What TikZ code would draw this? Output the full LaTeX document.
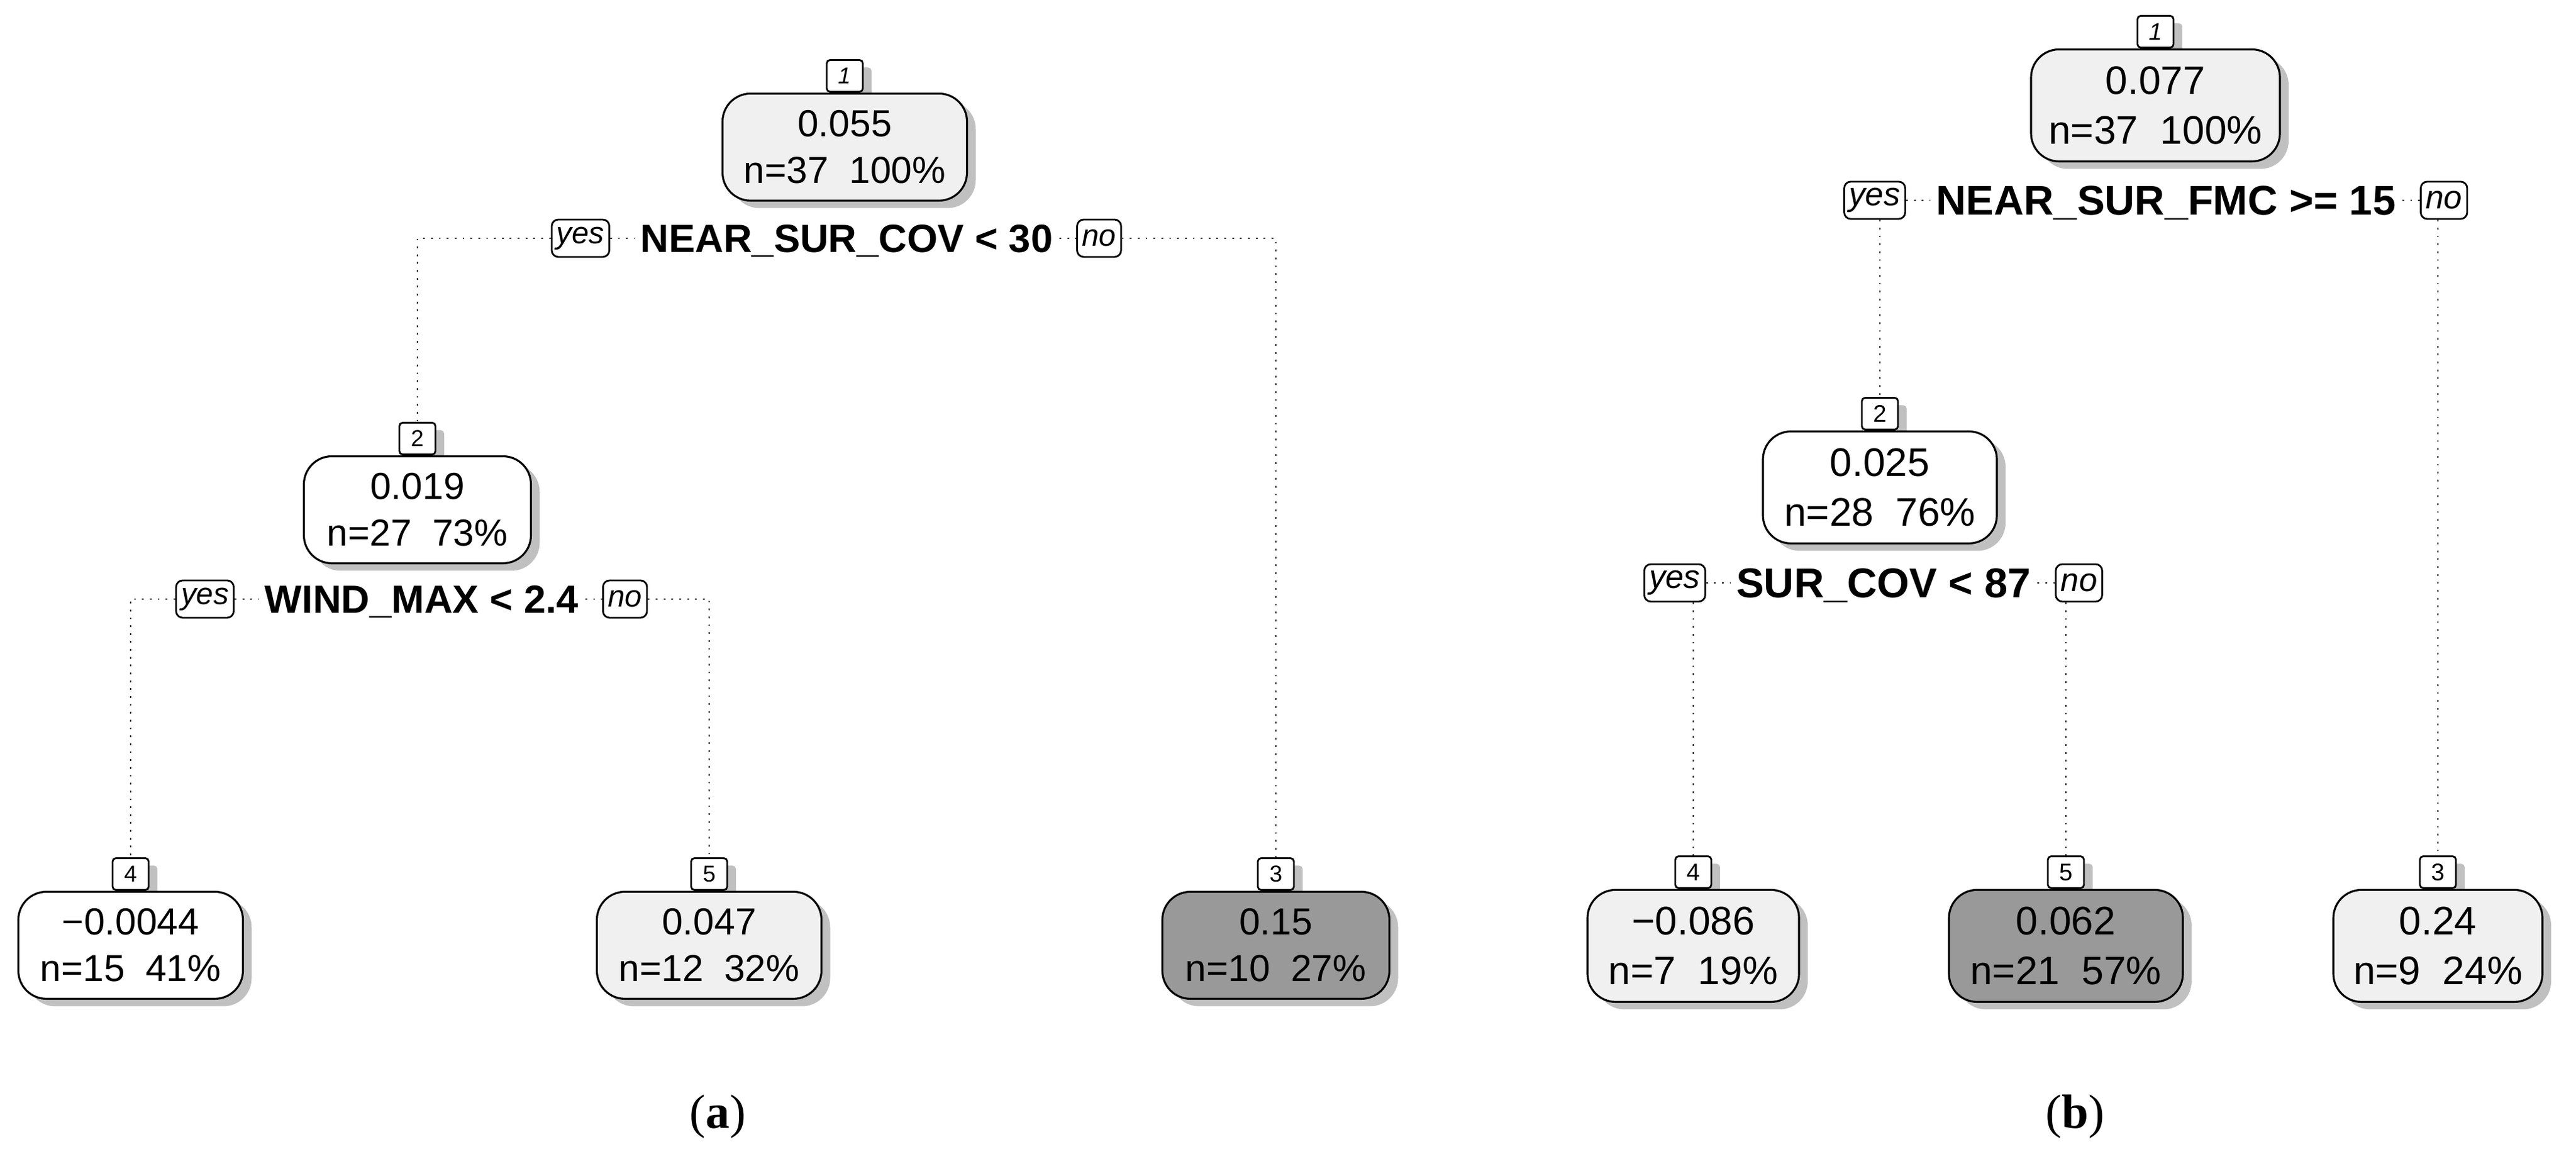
\documentclass[tikz,border=0pt]{standalone}
\usepackage{fontspec}
\setmainfont{Liberation Sans}
\newfontfamily\capfont{Liberation Serif}
\usetikzlibrary{positioning, shadows}
\definecolor{boxlight}{RGB}{240, 240, 240}
\definecolor{boxdark}{RGB}{153, 153, 153}
\definecolor{shadowgray}{RGB}{192, 192, 192}

\tikzset{
  treenode/.style={draw, line width=0.9pt, rounded corners=0.45cm, align=center, inner xsep=0.1cm, inner ysep=0pt,
    drop shadow={shadow xshift=0.14cm, shadow yshift=-0.12cm, fill=shadowgray, opacity=1}},
  numbox/.style={draw, line width=0.8pt, fill=white, rounded corners=1.5pt, minimum width=0.58cm, minimum height=0.51cm, inner sep=0pt,
    drop shadow={shadow xshift=0.14cm, shadow yshift=-0.12cm, fill=shadowgray, opacity=1}},
  splittext/.style={font=\bfseries, inner xsep=0.1cm, text depth=0pt},
  yesno/.style={draw, line width=0.8pt, rounded corners=3pt, fill=white, inner xsep=0.08cm, inner ysep=0pt, minimum height=0.6cm, font=\itshape},
  link/.style={line width=0.8pt, black!85, dash pattern=on 0.8pt off 2.8pt}
}

\begin{document}
\begin{tikzpicture}
  \useasboundingbox (0, 0) rectangle (41.41, 18.63);

  % (a)
  \begin{scope}[treenode/.append style={font=\fontsize{17.2}{21.3}\selectfont, minimum height=1.72cm},
    numbox/.append style={font=\fontsize{10.5}{12}\selectfont},
    splittext/.append style={font=\fontsize{18}{20}\selectfont\bfseries},
    yesno/.append style={font=\fontsize{14}{16}\selectfont\itshape}]
    \node[numbox] (l1a) at (13.58, 17.41) {\textit{1}};
    \node[treenode, fill=boxlight, minimum width=3.93cm, below=0pt of l1a] (n1a) {0.055\\n=37~~100\%};
    \node[splittext] (split1a) at (13.61, 14.80) {NEAR\_SUR\_COV < 30};
    \node[yesno, left=0.38cm of split1a] (yes1a) {yes};
    \node[yesno, right=0.27cm of split1a] (no1a) {no};

    \node[numbox] (l2a) at (6.71, 11.58) {2};
    \node[treenode, fill=white, minimum width=3.65cm, below=0pt of l2a] (n2a) {0.019\\n=27~~73\%};
    \node[splittext] (split2a) at (6.78, 9.00) {WIND\_MAX < 2.4};
    \node[yesno, left=0.38cm of split2a] (yes2a) {yes};
    \node[yesno, right=0.27cm of split2a] (no2a) {no};

    \node[numbox] (l4a) at (2.10, 4.58) {4};
    \node[treenode, fill=white, minimum width=3.61cm, below=0pt of l4a] (n4a) {−0.0044\\n=15~~41\%};
    \node[numbox] (l5a) at (11.40, 4.58) {5};
    \node[treenode, fill=boxlight, minimum width=3.61cm, below=0pt of l5a] (n5a) {0.047\\n=12~~32\%};
    \node[numbox] (l3a) at (20.51, 4.58) {3};
    \node[treenode, fill=boxdark, minimum width=3.65cm, below=0pt of l3a] (n3a) {0.15\\n=10~~27\%};

    \draw[link] (yes1a.west) -| (l2a.north);
    \draw[link] (no1a.east) -| (l3a.north);
    \draw[link] (yes2a.west) -| (l4a.north);
    \draw[link] (no2a.east) -| (l5a.north);
  \end{scope}

  % (b)
  \begin{scope}[treenode/.append style={font=\fontsize{18.2}{22.6}\selectfont, minimum height=1.80cm},
    numbox/.append style={font=\fontsize{11}{13}\selectfont},
    splittext/.append style={font=\fontsize{19}{21}\selectfont\bfseries},
    yesno/.append style={font=\fontsize{15}{17}\selectfont\itshape}]
    \node[numbox] (l1b) at (34.65, 18.12) {\textit{1}};
    \node[treenode, fill=boxlight, minimum width=4.0cm, below=0pt of l1b] (n1b) {0.077\\n=37~~100\%};
    \node[splittext] (split1b) at (34.82, 15.41) {NEAR\_SUR\_FMC >= 15};
    \node[yesno, left=0.38cm of split1b] (yes1b) {yes};
    \node[yesno, right=0.28cm of split1b] (no1b) {no};

    \node[numbox] (l2b) at (30.22, 11.98) {2};
    \node[treenode, fill=white, minimum width=3.76cm, below=0pt of l2b] (n2b) {0.025\\n=28~~76\%};
    \node[splittext] (split2b) at (30.28, 9.26) {SUR\_COV < 87};
    \node[yesno, left=0.38cm of split2b] (yes2b) {yes};
    \node[yesno, right=0.28cm of split2b] (no2b) {no};

    \node[numbox] (l4b) at (27.22, 4.61) {4};
    \node[treenode, fill=boxlight, minimum width=3.40cm, below=0pt of l4b] (n4b) {−0.086\\n=7~~19\%};
    \node[numbox] (l5b) at (33.21, 4.61) {5};
    \node[treenode, fill=boxdark, minimum width=3.76cm, below=0pt of l5b] (n5b) {0.062\\n=21~~57\%};
    \node[numbox] (l3b) at (39.19, 4.61) {3};
    \node[treenode, fill=boxlight, minimum width=3.36cm, below=0pt of l3b] (n3b) {0.24\\n=9~~24\%};

    \draw[link] (yes1b.south -| l2b.north) -- (l2b.north);
    \draw[link] (no1b.south -| l3b.north) -- (l3b.north);
    \draw[link] (yes2b.south -| l4b.north) -- (l4b.north);
    \draw[link] (no2b.south -| l5b.north) -- (l5b.north);
  \end{scope}

  % short dots beside each split
  \foreach \t in {1a, 2a, 1b, 2b}
    \draw[link] (yes\t.east) -- (split\t.west) (split\t.east) -- (no\t.west);

  \node[font=\capfont\fontsize{22}{24}\selectfont] (capa) at (11.54, 0.68) {(\textbf{a})};
  \node[font=\capfont\fontsize{22}{24}\selectfont] (capb) at (33.36, 0.68) {(\textbf{b})};
\end{tikzpicture}
\end{document}
